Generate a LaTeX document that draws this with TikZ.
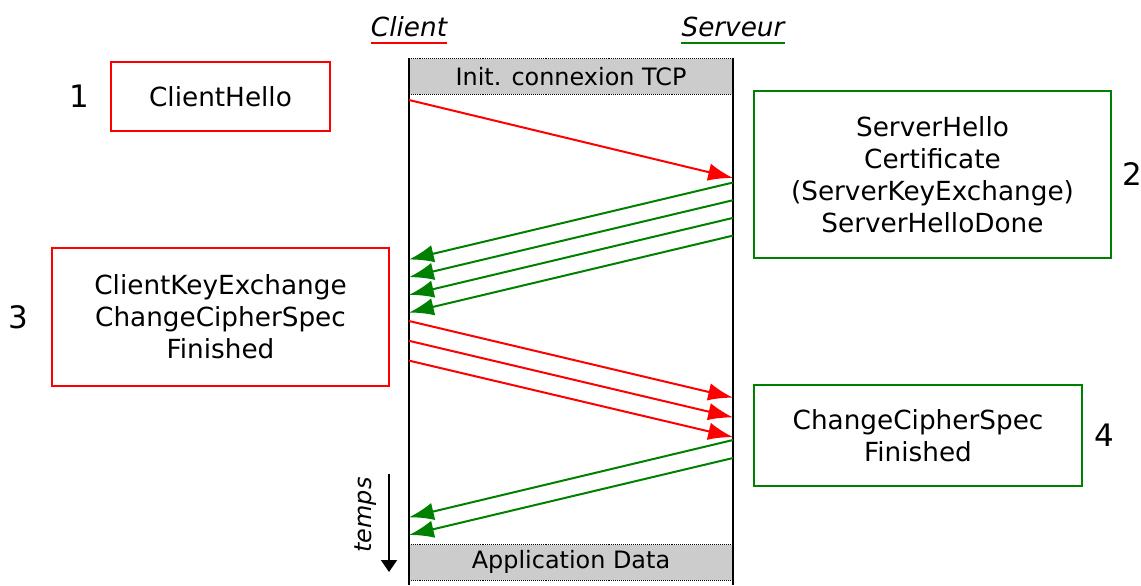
\documentclass[tikz,border=0pt]{standalone}
\usepackage{fontspec}
\setmainfont{DejaVu Sans}
\usetikzlibrary{positioning}
\usetikzlibrary{calc,arrows.meta}
\definecolor{srvgreen}{RGB}{0,128,0}

\begin{document}
\begin{tikzpicture}[x=0.025cm,y=-0.025cm,
                    msgbox/.style={rectangle,
                                   draw,
                                   line width=0.05cm,
                                   align=center,
                                   font=\fontsize{18.7}{22.7}\selectfont
                                  },
                    stepnum/.style={inner sep=0,
                                    font=\fontsize{22}{26}\selectfont
                                   },
                    phase/.style={fill=black!20,
                                  inner sep=0,
                                  minimum width=8.1cm,
                                  minimum height=0.875cm,
                                  font=\fontsize{17}{20}\selectfont
                                 },
                    actor/.style={inner sep=0,
                                  anchor=base,
                                  font=\fontsize{18.7}{22.7}\selectfont\itshape
                                 },
                    msg/.style={line width=0.05cm,
                                -{Latex[length=0.62cm,width=0.44cm]}
                               }
                   ]
\useasboundingbox (0,0) rectangle (1141,585);

% acteurs
\node[actor] (client) at (409,36) {Client};
\node[actor] (serveur) at (733,36) {Serveur};
\draw[red,line width=0.06cm] ($(client.base west)+(0,7)$) -- ($(client.base east)+(0,7)$);
\draw[srvgreen,line width=0.06cm] ($(serveur.base west)+(0,7)$) -- ($(serveur.base east)+(0,7)$);

% phases
\node[phase] (tcp) at (571,76.5) {Init. connexion TCP};
\node[phase] (appdata) at (571,562) {Application Data};
\foreach \p in {tcp,appdata}{
  \draw[densely dotted] (\p.north west) -- (\p.north east);
  \draw[densely dotted] (\p.south west) -- (\p.south east);
}

% lignes de vie
\coordinate (ctop) at (409,58);
\coordinate (cbot) at (409,585);
\coordinate (stop) at (733,58);
\coordinate (sbot) at (733,585);
\draw[line width=0.05cm] (ctop) -- (cbot);
\draw[line width=0.05cm] (stop) -- (sbot);

% messages
\node[msgbox,draw=red,minimum width=5.475cm,minimum height=1.725cm] (hello) at (220.5,96.5) {ClientHello};
\node[stepnum,left=0.525cm of hello] {1};
\node[msgbox,draw=srvgreen,minimum width=8.925cm,minimum height=4.175cm] (srvhello) at (932.5,174.5)
     {ServerHello\\Certificate\\(ServerKeyExchange)\\ServerHelloDone};
\node[stepnum,right=0.25cm of srvhello] {2};
\node[msgbox,draw=red,minimum width=8.425cm,minimum height=3.45cm] (keyx) at (220.5,317)
     {ClientKeyExchange\\ChangeCipherSpec\\Finished};
\node[stepnum,left=0.55cm of keyx] {3};
\node[msgbox,draw=srvgreen,minimum width=8.2cm,minimum height=2.525cm] (srvfin) at (918,435.5)
     {ChangeCipherSpec\\Finished};
\node[stepnum,right=0.275cm of srvfin] {4};

\coordinate (c0) at (409,100);
\coordinate (s0) at (733,178);
\draw[msg,red] (c0) -- (s0);
\foreach \i in {0,...,3}{
  \coordinate (sa\i) at (733,182.5+17.7*\i);
  \coordinate (ca\i) at (409,259.5+17.7*\i);
  \draw[msg,srvgreen] (sa\i) -- (ca\i);
}
\foreach \i in {0,...,2}{
  \coordinate (cb\i) at (409,321+19.8*\i);
  \coordinate (sb\i) at (733,397.7+19.7*\i);
  \draw[msg,red] (cb\i) -- (sb\i);
}
\foreach \i in {0,1}{
  \coordinate (sc\i) at (733,440+18*\i);
  \coordinate (cc\i) at (409,517.3+17.7*\i);
  \draw[msg,srvgreen] (sc\i) -- (cc\i);
}

% temps
\coordinate (ttop) at (389,474);
\coordinate (tbot) at (389,572);
\draw[line width=0.045cm,-{Triangle[length=0.3cm,width=0.4cm]}] (ttop) -- (tbot);
\node[rotate=90,inner sep=0,font=\fontsize{17}{20}\selectfont\itshape] (temps) at (366,515) {temps};
\end{tikzpicture}
\end{document}
